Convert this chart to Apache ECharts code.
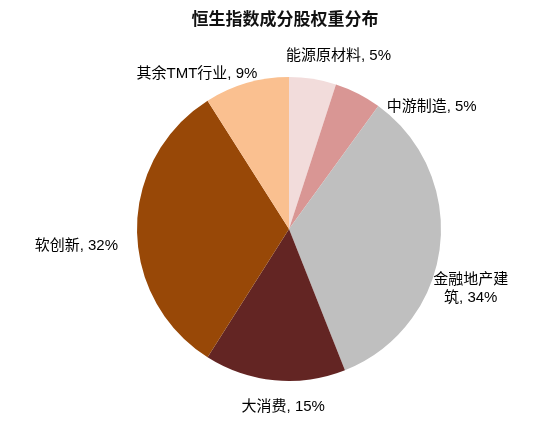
<!DOCTYPE html>
<html><head><meta charset="utf-8">
<script src="https://cdn.jsdelivr.net/npm/echarts@6/dist/echarts.min.js"></script>
<style>html,body{margin:0;padding:0;background:#fff}#c{width:550px;height:424px}</style>
</head><body><div id="c"></div>
<script>
const categories = ['能源原材料', '中游制造', '金融地产建筑', '大消费', '软创新', '其余TMT行业'];
const values = [5, 5, 34, 15, 32, 9];
const colors = ['#F2DCDB', '#D99694', '#BFBFBF', '#632523', '#984807', '#FAC090'];
const titleText = '恒生指数成分股权重分布';

// label nudges (pixels) relative to ECharts' outside label placement
const labelNudge = [[-33, -15], [20, 20], [18, 40], [56, 19], [-6, 17], [18, -1]];

const chart = echarts.init(document.getElementById('c'));
const font = '"Liberation Sans", Arial, "Noto Sans CJK SC", sans-serif';
chart.setOption({
  animation: false,
  title: {
    text: titleText, left: 280, top: 7, textAlign: 'center',
    textStyle: { fontSize: 17, fontWeight: 'bold', color: '#111', fontFamily: font }
  },
  series: [{
    type: 'pie',
    center: [289, 229],
    radius: 152,
    startAngle: 90,
    clockwise: true,
    avoidLabelOverlap: false,
    data: categories.map((n, i) => {
      const d = { name: n, value: values[i], itemStyle: { color: colors[i] } };
      if (i === 2) d.label = { width: 78, overflow: 'break', lineHeight: 18 };
      return d;
    }),
    label: {
      show: true, position: 'outside', color: '#000', fontSize: 15, fontFamily: font,
      formatter: p => p.name + ', ' + p.value + '%'
    },
    labelLine: { show: false, length: 8, length2: 0 },
    labelLayout: p => {
      const r = { dx: labelNudge[p.dataIndex][0], dy: labelNudge[p.dataIndex][1] };
      if (p.dataIndex === 2) r.align = 'center';
      return r;
    },
    itemStyle: { borderWidth: 0 }
  }]
});
</script></body></html>
